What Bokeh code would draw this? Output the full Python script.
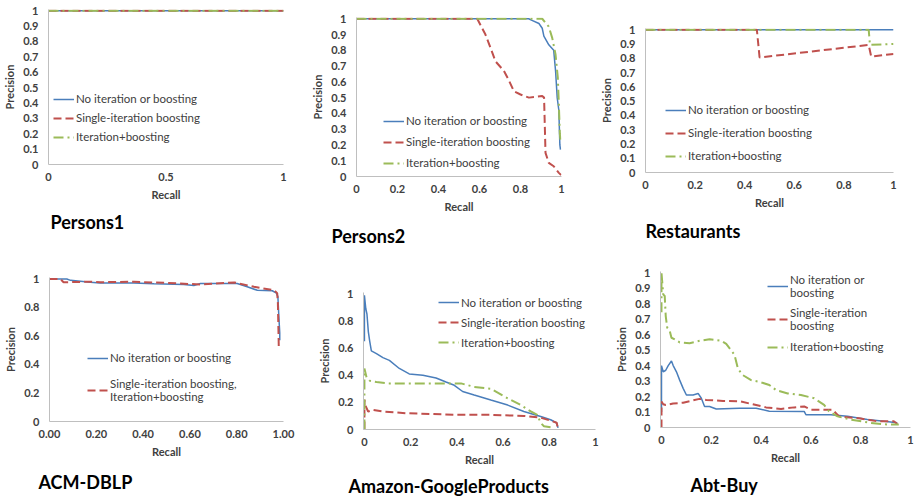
from bokeh.plotting import figure
from bokeh.layouts import column, row
from bokeh.models import Range1d, FixedTicker, Legend, LegendItem
from bokeh.embed import file_html
from bokeh.resources import INLINE

BLUE = "#4a7ebb"
RED = "#c0504d"
GREEN = "#9bbb59"
FONT = "Lato"
TXT = "#404040"

NAMES = ["No iteration or boosting", "Single-iteration boosting", "Iteration+boosting"]

# ---------------- tick labels ----------------
ticks_half = [0, 0.5, 1]
labels_half = ["0", "0.5", "1"]
ticks_tenth = [0, 0.1, 0.2, 0.3, 0.4, 0.5, 0.6, 0.7, 0.8, 0.9, 1]
labels_tenth = ["0", "0.1", "0.2", "0.3", "0.4", "0.5", "0.6", "0.7", "0.8", "0.9", "1"]
ticks_fifth = [0, 0.2, 0.4, 0.6, 0.8, 1]
labels_fifth = ["0", "0.2", "0.4", "0.6", "0.8", "1"]
labels_fifth_2dp = ["0.00", "0.20", "0.40", "0.60", "0.80", "1.00"]

# ---------------- Persons1 ----------------
p1_none_x = [0, 1]
p1_none_y = [1, 1]
p1_single_x = [0, 1]
p1_single_y = [1, 1]
p1_iter_x = [0, 1]
p1_iter_y = [1, 1]

# ---------------- Persons2 ----------------
p2_none_x = [0, 0.84, 0.856, 0.89, 0.906, 0.914, 0.938, 0.962, 0.971, 0.979, 0.987, 0.992, 0.995]
p2_none_y = [1, 1, 0.99, 0.97, 0.94, 0.89, 0.835, 0.80, 0.67, 0.50, 0.42, 0.20, 0.17]
p2_single_x = [0, 0.589, 0.629, 0.654, 0.678, 0.719, 0.743, 0.768, 0.80, 0.841, 0.906, 0.915, 0.922,
               0.938, 0.962, 0.987, 0.998]
p2_single_y = [1, 1, 0.90, 0.815, 0.73, 0.67, 0.61, 0.54, 0.52, 0.50, 0.51, 0.50, 0.15,
               0.086, 0.065, 0.023, 0.01]
p2_iter_x = [0, 0.906, 0.938, 0.955, 0.971, 0.982, 0.987, 0.992, 0.995]
p2_iter_y = [1, 1, 0.95, 0.877, 0.773, 0.627, 0.46, 0.27, 0.23]

# ---------------- Restaurants ----------------
p3_none_x = [0, 1]
p3_none_y = [1, 1]
p3_single_x = [0, 0.449, 0.46, 0.90, 0.91, 1.0]
p3_single_y = [1, 1, 0.805, 0.893, 0.812, 0.83]
p3_iter_x = [0, 0.90, 0.905, 1.0]
p3_iter_y = [1, 1, 0.893, 0.90]

# ---------------- ACM-DBLP ----------------
p4_none_x = [0, 0.074, 0.09, 0.174, 0.217, 0.36, 0.446, 0.574, 0.617, 0.645, 0.802, 0.845, 0.888,
             0.952, 0.97, 0.976, 0.98, 0.984, 0.984]
p4_none_y = [1, 1, 0.99, 0.977, 0.972, 0.972, 0.966, 0.961, 0.954, 0.968, 0.968, 0.945, 0.92,
             0.917, 0.90, 0.876, 0.74, 0.62, 0.57]
p4_single_x = [0, 0.046, 0.06, 0.174, 0.217, 0.36, 0.503, 0.646, 0.79, 0.874, 0.96, 0.973, 0.976, 0.98]
p4_single_y = [1, 1, 0.977, 0.98, 0.977, 0.98, 0.972, 0.961, 0.975, 0.945, 0.92, 0.90, 0.83, 0.51]

# ---------------- Amazon-GoogleProducts ----------------
p5_none_x = [0, 0, 0.006, 0.011, 0.017, 0.023, 0.03, 0.052, 0.08, 0.108, 0.151, 0.194, 0.253, 0.31,
             0.353, 0.389, 0.425, 0.475, 0.547, 0.62, 0.69, 0.763, 0.806, 0.832, 0.838]
p5_none_y = [0.65, 0.99, 0.89, 0.85, 0.72, 0.65, 0.58, 0.56, 0.53, 0.51, 0.45, 0.41, 0.40, 0.38,
             0.35, 0.326, 0.28, 0.254, 0.217, 0.18, 0.133, 0.096, 0.072, 0.048, 0.012]
p5_single_x = [0, 0, 0.006, 0.016, 0.038, 0.08, 0.18, 0.397, 0.547, 0.69, 0.763, 0.806, 0.832, 0.836]
p5_single_y = [0, 0.22, 0.17, 0.133, 0.145, 0.133, 0.12, 0.108, 0.108, 0.10, 0.087, 0.065, 0.05, 0.02]
p5_iter_x = [0, 0, 0.009, 0.023, 0.052, 0.108, 0.253, 0.418, 0.475, 0.547, 0.62, 0.677, 0.72, 0.748,
             0.763, 0.777, 0.82]
p5_iter_y = [0, 0.45, 0.386, 0.36, 0.35, 0.34, 0.34, 0.34, 0.314, 0.30, 0.23, 0.18, 0.133, 0.108,
             0.048, 0.024, 0.012]

# ---------------- Abt-Buy ----------------
p6_none_x = [0, 0, 0.007, 0.017, 0.027, 0.04, 0.047, 0.06, 0.073, 0.087, 0.10, 0.127, 0.147, 0.16,
             0.173, 0.193, 0.22, 0.313, 0.38, 0.433, 0.573, 0.58, 0.68, 0.747, 0.827, 0.893, 0.947]
p6_none_y = [0.10, 0.40, 0.36, 0.37, 0.40, 0.43, 0.40, 0.36, 0.306, 0.253, 0.21, 0.21, 0.22, 0.189,
             0.136, 0.136, 0.12, 0.125, 0.125, 0.105, 0.104, 0.083, 0.083, 0.072, 0.051, 0.04, 0.03]
p6_single_x = [0, 0, 0.007, 0.017, 0.047, 0.087, 0.113, 0.153, 0.18, 0.247, 0.313, 0.367, 0.42, 0.48,
               0.533, 0.573, 0.60, 0.687, 0.713, 0.80, 0.867, 0.933, 0.947]
p6_single_y = [0, 0.168, 0.15, 0.145, 0.155, 0.16, 0.17, 0.185, 0.178, 0.172, 0.17, 0.15, 0.13, 0.12,
               0.13, 0.136, 0.115, 0.115, 0.072, 0.058, 0.04, 0.04, 0.023]
p6_iter_x = [0, 0, 0.007, 0.013, 0.017, 0.023, 0.033, 0.04, 0.053, 0.073, 0.113, 0.153, 0.193, 0.24,
             0.26, 0.293, 0.307, 0.327, 0.36, 0.393, 0.433, 0.46, 0.507, 0.56, 0.613, 0.653, 0.673,
             0.707, 0.76, 0.84, 0.907, 0.953]
p6_iter_y = [0.745, 1.0, 0.86, 0.85, 0.72, 0.645, 0.624, 0.58, 0.57, 0.55, 0.545, 0.56, 0.57, 0.56,
             0.54, 0.47, 0.38, 0.338, 0.306, 0.295, 0.275, 0.242, 0.22, 0.21, 0.189, 0.146, 0.104,
             0.072, 0.051, 0.03, 0.019, 0.019]


def style_axis(ax, ticks, labels, name, standoff):
    ax.ticker = FixedTicker(ticks=ticks)
    ax.major_label_overrides = {t: l for t, l in zip(ticks, labels)}
    ax.axis_label = name
    ax.axis_line_color = "#bfbfbf"
    ax.axis_line_width = 1
    ax.major_tick_line_color = None
    ax.minor_tick_line_color = None
    ax.major_tick_out = 0
    ax.major_tick_in = 0
    ax.major_label_standoff = standoff
    ax.axis_label_standoff = 4
    ax.major_label_text_font = FONT
    ax.major_label_text_font_size = "11px"
    ax.major_label_text_font_style = "bold"
    ax.major_label_text_color = TXT
    ax.axis_label_text_font = FONT
    ax.axis_label_text_font_size = "11px"
    ax.axis_label_text_font_style = "bold"
    ax.axis_label_text_color = TXT


def panel(title, w, h, left, right, top, bottom, xr, yr, xt, xl, yt, yl, title_offset, title_standoff):
    p = figure(width=w, height=h, min_border_left=left, min_border_right=right,
               min_border_top=top, min_border_bottom=bottom,
               x_range=Range1d(*xr), y_range=Range1d(*yr),
               output_backend="svg", toolbar_location=None,
               title=title, title_location="below")
    p.grid.visible = False
    p.outline_line_color = None
    p.background_fill_color = "white"
    p.border_fill_color = "white"
    style_axis(p.xaxis[0], xt, xl, "Recall", 8)
    style_axis(p.yaxis[0], yt, yl, "Precision", 10)
    p.title.text_font = FONT
    p.title.text_font_size = "18px"
    p.title.text_font_style = "bold"
    p.title.text_color = "black"
    p.title.align = "left"
    p.title.offset = title_offset
    p.title.standoff = title_standoff
    return p


def lines(p, series):
    rs = []
    styles = [(BLUE, 1.5, "solid"), (RED, 2, "8 4"), (GREEN, 2, "10 4 2 4")]
    for (xs, ys), (c, lw, dash) in zip(series, styles):
        if xs is None:
            rs.append(None)
            continue
        rs.append(p.line(xs, ys, line_color=c, line_width=lw, line_dash=dash))
    return rs


def legend(p, items, loc, label_height, spacing):
    lg = Legend(items=[LegendItem(label=t, renderers=[r]) for t, r in items],
                location=loc, padding=0, margin=0, spacing=spacing,
                label_height=label_height, glyph_width=21, glyph_height=12,
                label_standoff=2, border_line_alpha=0, background_fill_alpha=0,
                label_text_font=FONT, label_text_font_size="11.5px",
                label_text_line_height=1.3, label_text_color=TXT)
    p.add_layout(lg, "center")


# ---------- Row 1 ----------
f1 = panel("Persons1", 300, 253, 48, 17, 9, 89, (0, 1), (0, 1.008),
           ticks_half, labels_half, ticks_tenth, labels_tenth, 2, 11)
r = lines(f1, [(p1_none_x, p1_none_y), (p1_single_x, p1_single_y), (p1_iter_x, p1_iter_y)])
legend(f1, list(zip(NAMES, r)), (5, 18), 19, 0)

f2 = panel("Persons2", 297, 253, 56, 36, 17, 76, (0, 1), (0, 1.008),
           ticks_fifth, labels_fifth, ticks_tenth, labels_tenth, -25, 14)
r = lines(f2, [(p2_none_x, p2_none_y), (p2_single_x, p2_single_y), (p2_iter_x, p2_iter_y)])
legend(f2, list(zip(NAMES, r)), (27, 3), 21, 0)

f3 = panel("Restaurants", 317, 253, 46, 21, 28, 81, (0, 1), (0, 1.008),
           ticks_fifth, labels_fifth, ticks_tenth, labels_tenth, 0, 13)
r = lines(f3, [(p3_none_x, p3_none_y), (p3_single_x, p3_single_y), (p3_iter_x, p3_iter_y)])
legend(f3, list(zip(NAMES, r)), (20, 5), 23, 0)

# ---------- Row 2 ----------
f4 = panel("ACM-DBLP", 300, 247, 49, 17, 24, 78, (0, 1), (0, 1.01),
           ticks_fifth, labels_fifth_2dp, ticks_fifth, labels_fifth, -11, 16)
r = lines(f4, [(p4_none_x, p4_none_y), (p4_single_x, p4_single_y), (None, None)])
legend(f4, [(NAMES[0], r[0]), ("Single-iteration boosting,\nIteration+boosting", r[1])],
       (38, 18), 15, 12)

f5 = panel("Amazon-GoogleProducts", 306, 247, 63, 11, 39, 70, (-0.004, 1), (0, 1.01),
           ticks_fifth, labels_fifth, ticks_fifth, labels_fifth, -15, 8)
r = lines(f5, [(p5_none_x, p5_none_y), (p5_single_x, p5_single_y), (p5_iter_x, p5_iter_y)])
legend(f5, list(zip(NAMES, r)), (75, 77), 20, 0)

f6 = panel("Abt-Buy", 308, 247, 54, 4, 18, 72, (-0.004, 1), (0, 1.008),
           ticks_fifth, labels_fifth, ticks_tenth, labels_tenth, 30, 10)
r = lines(f6, [(p6_none_x, p6_none_y), (p6_single_x, p6_single_y), (p6_iter_x, p6_iter_y)])
legend(f6, [("No iteration or\nboosting", r[0]), ("Single-iteration\nboosting", r[1]),
            (NAMES[2], r[2])], (107, 73), 15, 7)

layout = column(row(column(f1), column(f2), column(f3)),
                row(column(f4), column(f5), column(f6)))
open("out.html", "w").write(file_html(layout, INLINE))
